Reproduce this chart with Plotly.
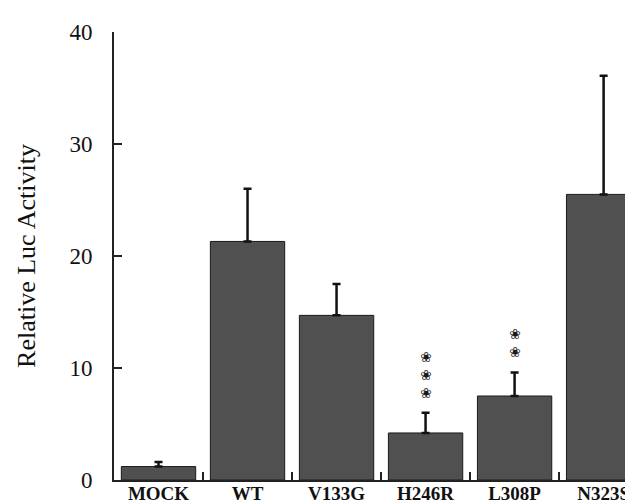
import plotly.graph_objects as go

categories = ["MOCK", "WT", "V133G", "H246R", "L308P", "N323S"]
values = [1.2, 21.3, 14.7, 4.2, 7.5, 25.5]
errors = [0.4, 4.7, 2.8, 1.8, 2.1, 10.6]
star_counts = [0, 0, 0, 3, 2, 0]

fig = go.Figure()
fig.add_trace(go.Bar(
    x=categories, y=values,
    marker=dict(color="#505050", line=dict(color="#1a1a1a", width=1)),
    error_y=dict(type="data", array=errors, arrayminus=[0] * len(errors),
                 symmetric=False, color="#111111", thickness=2.5, width=4),
))

ann = []
for c, v, e, n in zip(categories, values, errors, star_counts):
    if n:
        ann.append(dict(x=c, y=v + e, xref="x", yref="y", yanchor="bottom",
                        text="<br>".join(["❀"] * n), showarrow=False, yshift=10,
                        font=dict(family="DejaVu Sans", size=14, color="#1a1a1a")))

fig.update_layout(
    width=633, height=504,
    margin=dict(l=106, r=0, t=24, b=32),
    paper_bgcolor="white", plot_bgcolor="white",
    bargap=0.165,
    showlegend=False,
    annotations=ann,
    xaxis=dict(
        type="category", range=[-0.5, 5.42],
        showline=True, linecolor="#222222", linewidth=1.5,
        ticks="inside", tickson="boundaries", ticklen=8, tickwidth=1.5, tickcolor="#222222",
        tickfont=dict(family="Liberation Serif", size=19, color="#111111", weight="bold"),
        ticklabelstandoff=-5,
        showgrid=False, zeroline=False,
    ),
    yaxis=dict(
        range=[0, 40], tickvals=[0, 10, 20, 30, 40],
        showline=True, linecolor="#222222", linewidth=2,
        ticks="inside", ticklen=8, tickwidth=1.5, tickcolor="#222222",
        tickfont=dict(family="Liberation Serif", size=23, color="#111111"),
        ticklabelstandoff=15,
        showgrid=False, zeroline=False,
        title=dict(text="Relative Luc Activity", standoff=26,
                   font=dict(family="Liberation Serif", size=26, color="#111111")),
    ),
)

fig.write_html("out.html")
